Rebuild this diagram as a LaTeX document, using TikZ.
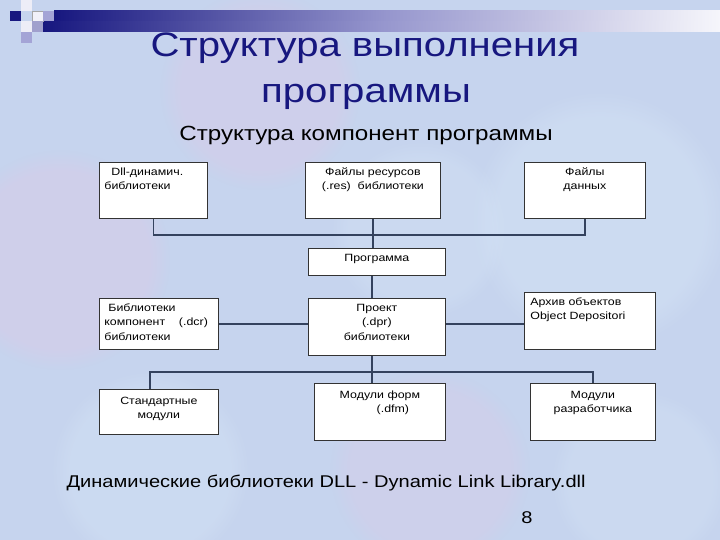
\documentclass[tikz,border=0pt]{standalone}
\usepackage{fontspec}
\setmainfont[FakeStretch=1.18]{Liberation Sans}
\usetikzlibrary{calc,fadings}
\definecolor{slidebg}{HTML}{C6D4EE}
\definecolor{slidepink}{HTML}{D8CBE8}
\definecolor{slidelight}{HTML}{D3E2F5}
\definecolor{slidenavy}{HTML}{17177F}
\definecolor{slidelav}{HTML}{A4A4D6}
\definecolor{wirecol}{HTML}{34425E}
\newcommand{\cell}[4]{\parbox[t][#2][t]{#1}{#3\rule{0pt}{13pt}#4}}

\begin{document}
\begin{tikzpicture}[x=1pt, y=-1pt,
        blk/.style={draw=black!80, line width=0.8pt, fill=white, inner sep=0pt, anchor=north west,
                    font=\fontsize{10.5}{14.5}\selectfont},
        wire/.style={draw=wirecol, line width=1.4pt},
        blob/.style={path fading=circle with fuzzy edge 20 percent}
      ]
        \useasboundingbox (0,0) rectangle (720,540);
        \fill[slidebg] (0,0) rectangle (720,540);
        \fill[slidepink, blob, opacity=0.55] (60,260) circle (110);
        \fill[slidepink, blob, opacity=0.45] (260,90) circle (100);
        \fill[slidelight, blob, opacity=0.5] (600,220) circle (130);
        \fill[slidepink, blob, opacity=0.4] (430,470) circle (100);
        \fill[slidelight, blob, opacity=0.45] (150,470) circle (100);
        \fill[slidelight, blob, opacity=0.4] (640,480) circle (90);
        \fill[slidelight, blob, opacity=0.4] (420,230) circle (90);

        % header bar
        \shade[left color=slidenavy, right color=white!90!slidelav, middle color=slidelav!90!slidenavy]
            (43,21) rectangle (720,32);
        \shade[left color=slidenavy, right color=white!90!slidelav, middle color=slidelav!90!slidenavy]
            (54,11) rectangle (720,21);
        \fill[slidenavy] (10,11) rectangle (21,21);
        \fill[white!85!slidelav, draw=gray!70] (32,11) rectangle (43,21);
        \fill[slidelav] (43,11) rectangle (54,21);
        \fill[white!80!slidelav] (21,21) rectangle (32,32);
        \fill[slidelav!90!gray] (32,21) rectangle (43,32);
        \fill[slidelav] (21,32) rectangle (32,43);
        \fill[white!80!slidelav] (21,0) rectangle (32,11);

        \node[anchor=base, text=slidenavy, font=\fontsize{34}{40}\selectfont] (ttl1) at (365,57) {Структура выполнения};
        \node[anchor=base, text=slidenavy, font=\fontsize{34}{40}\selectfont] (ttl2) at (366,103) {программы};
        \node[anchor=base, font=\fontsize{20.5}{24}\selectfont] (sub) at (366,141) {Структура компонент программы};

        \node[blk] (dll) at (99,162)  {\cell{108pt}{56pt}{\raggedright\leftskip=5pt}{\hspace{7pt}Dll-динамич.\\библиотеки}};
        \node[blk] (res) at (305,162) {\cell{135pt}{56pt}{\centering}{Файлы ресурсов\\(.res)\ \ библиотеки}};
        \node[blk] (dat) at (524,162) {\cell{121pt}{56pt}{\centering}{Файлы\\данных}};
        \node[blk] (prg) at (308,248) {\cell{137pt}{27pt}{\centering}{Программа}};
        \node[blk] (lib) at (99,298)  {\cell{119pt}{51pt}{\raggedright\leftskip=5pt}{\hspace{4pt}Библиотеки\\компонент\ \ \ \ (.dcr)\\библиотеки}};
        \node[blk] (prj) at (308,298) {\cell{137pt}{57pt}{\centering}{Проект\\(.dpr)\\библиотеки}};
        \node[blk] (arc) at (524,292) {\cell{131pt}{57pt}{\raggedright\leftskip=6pt}{Архив объектов\\Object Depositori}};
        \node[blk] (std) at (99,389)  {\cell{119pt}{45pt}{\centering}{\rule{0pt}{15pt}Стандартные\\модули}};
        \node[blk] (frm) at (314,383) {\cell{131pt}{57pt}{\centering}{\rule{0pt}{15pt}Модули форм\\\hspace{26pt}(.dfm)}};
        \node[blk] (dev) at (530,383) {\cell{125pt}{57pt}{\centering}{\rule{0pt}{15pt}Модули\\разработчика}};

        \coordinate (bus1) at (372,235);
        \coordinate (bus2) at (372,372);
        \coordinate (lft2) at (150,372);

        \draw[wire] (dll.south) |- (bus1) -| (dat.south);
        \draw[wire] (res.south) -- (res.south |- prg.north);
        \draw[wire] (prg.south -| bus1) -- (prj.north -| bus1);
        \draw[wire] (lib.east) -- (lib.east -| prj.west);
        \draw[wire] (prj.east |- lib.east) -- (arc.west |- lib.east);
        \draw[wire] (prj.south -| bus2) -- (bus2);
        \draw[wire] (std.north -| lft2) -- (lft2) -- (bus2) -| (dev.north);
        \draw[wire] (bus2) -- (bus2 |- frm.north);

        \node[anchor=base west, font=\fontsize{17}{20}\selectfont] (dllnote) at (63,487) {Динамические библиотеки DLL - Dynamic Link Library.dll};
        \node[anchor=base, font=\fontsize{17}{20}\selectfont] (pgno) at (527,523) {8};
      \end{tikzpicture}
\end{document}
